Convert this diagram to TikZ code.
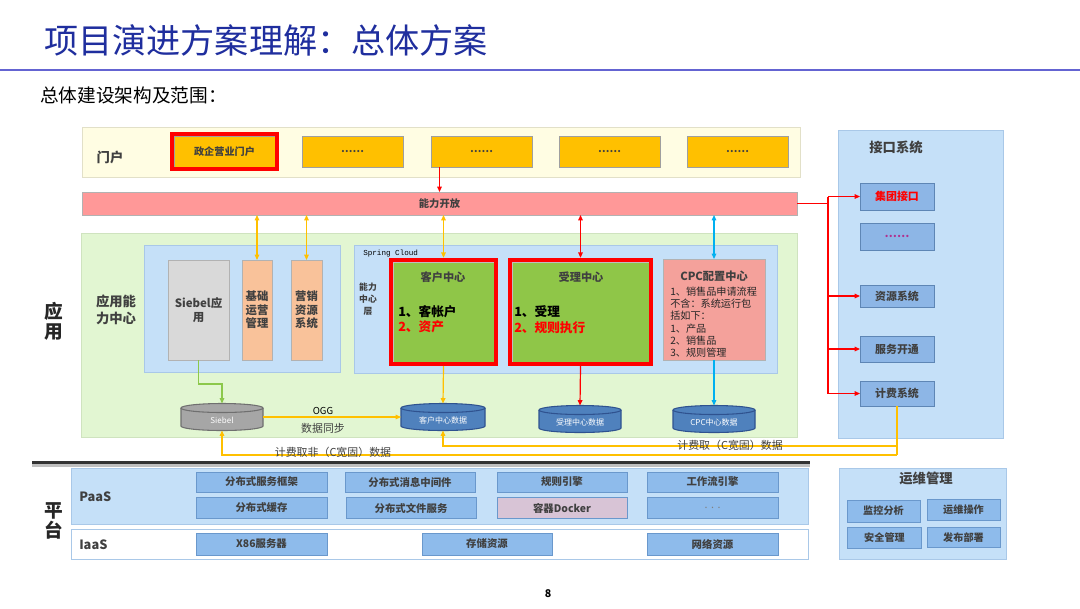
\documentclass[tikz,border=0pt]{standalone}
\usepackage{fontspec}
\setmainfont{Noto Sans CJK SC}
\setmonofont{Liberation Mono}
\usetikzlibrary{arrows.meta,shadows,fit}
\definecolor{ttl}{HTML}{1F2E9E}
\definecolor{tline}{HTML}{6464D2}
\definecolor{portbg}{HTML}{FFFDE3}
\definecolor{portbd}{HTML}{E2E0C8}
\definecolor{orgY}{HTML}{FFC000}
\definecolor{kfpink}{HTML}{FF9898}
\definecolor{appgrn}{HTML}{E2F6D2}
\definecolor{appbd}{HTML}{CFE3BF}
\definecolor{ltblue}{HTML}{C5E0F8}
\definecolor{ltbluebd}{HTML}{A9C8E8}
\definecolor{gbox}{HTML}{D9D9D9}
\definecolor{lorange}{HTML}{F9C29A}
\definecolor{grn}{HTML}{8FC648}
\definecolor{cpcpink}{HTML}{F4A19B}
\definecolor{dbblue}{HTML}{4F81BD}
\definecolor{dbedge}{HTML}{2F528F}
\definecolor{sgray}{HTML}{A6A6A6}
\definecolor{sedge}{HTML}{6F6F6F}
\definecolor{ibox}{HTML}{8DB6E6}
\definecolor{iboxbd}{HTML}{5E86B5}
\definecolor{pboxc}{HTML}{8EBBEB}
\definecolor{pboxbd}{HTML}{6A98CC}
\definecolor{dock}{HTML}{D8C4D6}
\definecolor{txt}{HTML}{404040}
\definecolor{yel}{HTML}{FFC000}
\definecolor{cyn}{HTML}{00B0F0}
\definecolor{gline}{HTML}{8CC84B}
\definecolor{dotc}{HTML}{B0308F}
\newcommand\dbcyl[7]{%
  \path[fill=#5] ({#2-#4},{#3-9}) -- ({#2-#4},{#3+9}) arc[start angle=180,end angle=0,x radius=#4,y radius=4.5] -- ({#2+#4},{#3-9}) -- cycle;
  \draw[#6, line width=0.8pt] ({#2-#4},{#3-9}) -- ({#2-#4},{#3+9}) arc[start angle=180,end angle=0,x radius=#4,y radius=4.5] -- ({#2+#4},{#3-9});
  \filldraw[fill=#5, draw=#6, line width=0.8pt] (#2,{#3-9}) ellipse[x radius=#4, y radius=4.5];
  \node[sz={2*#4}{27}] (#1) at (#2,#3) {};
  \node[text=white, font=\fontsize{6}{7}\selectfont, inner sep=0] at (#2,{#3+3}) {#7};
}
\begin{document}
\begin{tikzpicture}[x=0.75pt,y=-0.75pt,
  every node/.style={text=txt},
  sz/.style 2 args={minimum width=#1*0.75pt, minimum height=#2*0.75pt, inner sep=0pt, outer sep=0pt},
  fb/.style 2 args={font=\bfseries\fontsize{#1}{#2}\selectfont},
  fr/.style 2 args={font=\fontsize{#1}{#2}\selectfont},
  sh/.style={drop shadow={shadow xshift=0.9pt, shadow yshift=-0.9pt, opacity=0.3, fill=black}},
  pbox/.style={draw=gray!75, fill=orgY, sh, fb={7.6}{9}},
  redfr/.style={draw=red, line width=3.5pt, inner sep=1.4pt},
  ibx/.style={draw=iboxbd, fill=ibox, sh, fb={8.2}{10}},
  platbox/.style={draw=pboxbd, fill=pboxc, fb={7.8}{9}},
  opbox/.style={draw=pboxbd, fill=pboxc, fb={7.6}{9}},
  tipa/.tip={Triangle[length=4pt,width=3.4pt]},
  yarr/.style={draw=yel, line width=0.9pt, -tipa},
  yarr2/.style={draw=yel, line width=0.9pt, tipa-tipa},
  rarr/.style={draw=red, line width=0.9pt, -tipa},
  rarr2/.style={draw=red, line width=0.9pt, tipa-tipa},
  carr/.style={draw=cyn, line width=0.9pt, -tipa},
  carr2/.style={draw=cyn, line width=0.9pt, tipa-tipa},
  garr/.style={draw=gline, line width=0.9pt, -tipa},
  rline/.style={draw=red, line width=0.9pt},
  yline/.style={draw=yel, line width=0.9pt},
  bill/.style={fr={8.2}{10}, inner sep=0},
]
\useasboundingbox (0,0) rectangle (1080,608);
\fill[white] (0,0) rectangle (1080,608);

% title
\node[anchor=west, text=ttl, fr={25.6}{30}, inner sep=0] (title) at (44,40) {项目演进方案理解：总体方案};
\draw[tline, line width=1.4pt] (0,70) -- (1080,70);
\node[anchor=west, text=black, fr={14}{16}, inner sep=0] (sub) at (40,95) {总体建设架构及范围：};

% portal
\node[draw=portbd, fill=portbg, sz={718}{50}] (portal) at (441,152) {};
\node[fb={10}{12}] (menhu) at (110,157) {门户};
\node[pbox, sz={101}{31}] (p1) at (224.5,151.5) {政企营业门户};
\node[pbox, sz={101}{31}] (p2) at (352.5,151.5) {……};
\node[pbox, sz={101}{31}] (p3) at (481.5,151.5) {……};
\node[pbox, sz={101}{31}] (p4) at (609.5,151.5) {……};
\node[pbox, sz={101}{31}] (p5) at (737.5,151.5) {……};
\node[redfr, fit=(p1)] (p1f) {};

% capability open
\node[draw=gray!60, fill=kfpink, sz={715}{23}, fb={7.7}{9}] (kf) at (439.5,203.5) {能力开放};
\draw[rarr] (p3.south -| kf.north) -- (kf.north);

% application area
\node[draw=appbd, fill=appgrn, sz={716}{204}] (app) at (439,335) {};
\node[fb={10}{12.5}, align=center] (applbl) at (116,310) {应用能\\力中心};
\node[draw=ltbluebd, fill=ltblue, sz={196}{127}] (lpanel) at (242,308.5) {};
\node[draw=gray!60, fill=gbox, sz={61}{100}, sh, fb={8.6}{11}, align=center] (siebapp) at (198.5,310) {Siebel应\\用};
\node[draw=gray!60, fill=lorange, sz={30}{100}, sh, fb={8.5}{10}, align=center] (jichu) at (257,310) {基础\\运营\\管理};
\node[draw=gray!60, fill=lorange, sz={31}{100}, sh, fb={8.5}{10}, align=center] (yingxiao) at (306.5,310) {营销\\资源\\系统};

\node[draw=ltbluebd, fill=ltblue, sz={423}{128}] (rpanel) at (565.5,309) {};
\node[anchor=west, text=black, font=\ttfamily\fontsize{5.7}{7}\selectfont, inner sep=0] (spring) at (363,254) {Spring Cloud};
\node[fb={6.6}{9}, align=center, inner sep=0] (nlzx) at (368,299.5) {能力\\中心\\层};

\node[draw=gray!50, fill=grn, sz={101}{100}, sh] (kehu) at (443.5,312) {};
\node[redfr, fit=(kehu)] (kehuF) {};
\node[fb={8.4}{10}] (kehuT) at (443,277) {客户中心};
\node[anchor=west, text=black, fb={9.5}{11}, inner sep=0] (kehu1) at (398,312) {1、客帐户};
\node[anchor=west, text=red, fb={9.5}{11}, inner sep=0] (kehu2) at (398,327) {2、资产};

\node[draw=gray!50, fill=grn, sz={137}{100}, sh] (shouli) at (580.5,312) {};
\node[redfr, fit=(shouli)] (shouliF) {};
\node[fb={8.4}{10}] (shouliT) at (581,277) {受理中心};
\node[anchor=west, text=black, fb={9.5}{11}, inner sep=0] (shouli1) at (514,312) {1、受理};
\node[anchor=west, text=red, fb={9.5}{11}, inner sep=0] (shouli2) at (514,328) {2、规则执行};

\node[draw=gray!60, fill=cpcpink, sz={102}{101}, sh] (cpc) at (714,309.5) {};
\node[fb={8.4}{10}] (cpcT) at (714,276) {CPC配置中心};
\node[anchor=north west, fr={7.6}{9.2}, align=left, inner sep=0, text=black!85] (cpcB) at (670,286.5) {1、销售品申请流程\\不含：系统运行包\\括如下：\\1、产品\\2、销售品\\3、规则管理};

% databases
\dbcyl{sdb}{222}{417}{41}{sgray}{sedge}{Siebel}
\dbcyl{kdb}{443}{417}{42}{dbblue}{dbedge}{客户中心数据}
\dbcyl{sldb}{580}{419}{41}{dbblue}{dbedge}{受理中心数据}
\dbcyl{cdb}{714}{419}{41}{dbblue}{dbedge}{CPC中心数据}

% arrows capability <-> centers
\draw[yarr2] (kf.south -| jichu.north) -- (jichu.north);
\draw[yarr2] (kf.south -| yingxiao.north) -- (yingxiao.north);
\draw[yarr2] (kf.south -| kehuF.north) -- (kehuF.north);
\draw[rarr2] (kf.south -| shouliF.north) -- (shouliF.north);
\draw[carr2] (kf.south -| cpc.north) -- (cpc.north);

% arrows centers -> db
\coordinate (gturn) at (0,384);
\draw[garr] (siebapp.south) -- (siebapp.south |- gturn) -- (sdb.north |- gturn) -- (sdb.north);
\draw[yarr] (kehuF.south) -- (kdb.north);
\draw[rarr] (shouliF.south) -- (sldb.north);
\draw[carr] (cpc.south) -- (cdb.north);
\draw[yarr] (sdb.east) -- (kdb.west);
\node[fr={7.2}{8}, text=black, inner sep=0] (ogg) at (323,411) {OGG};
\node[fr={8.2}{9}, inner sep=0] (sync) at (323,428) {数据同步};

% interface system
\node[draw=ltbluebd, fill=ltblue, sz={165}{308}] (ifp) at (920.5,284) {};
\node[fb={10}{12}] (ifT) at (896,147) {接口系统};
\node[ibx, sz={74}{27}, text=red] (jt) at (897,196.5) {集团接口};
\node[ibx, sz={74}{27}, text=dotc] (idots) at (897,236.5) {……};
\node[ibx, sz={74}{22}] (zy) at (897,296) {资源系统};
\node[ibx, sz={74}{26}] (fw) at (897,349) {服务开通};
\node[ibx, sz={74}{25}] (jf) at (897,393.5) {计费系统};

\coordinate (rbus) at (828,204);
\draw[rline] (kf.east) -- (rbus |- kf.east);
\draw[rline] (rbus |- jt.west) -- (rbus |- jf.west);
\draw[rarr] (rbus |- jt.west) -- (jt.west);
\draw[rarr] (rbus |- zy.west) -- (zy.west);
\draw[rarr] (rbus |- fw.west) -- (fw.west);
\draw[rarr] (rbus |- jf.west) -- (jf.west);

% billing lines
\coordinate (yb1) at (0,446);
\coordinate (yb2) at (0,455);
\draw[yline] (jf.south) -- (jf.south |- yb2);
\draw[yarr] (jf.south |- yb1) -- (kdb.south |- yb1) -- (kdb.south);
\draw[yarr] (jf.south |- yb2) -- (sdb.south |- yb2) -- (sdb.south);
\node[bill] (b1) at (730,445) {计费取（C宽固）数据};
\node[bill] (b2) at (333,452) {计费取非（C宽固）数据};

% separator
\draw[black!25, line width=1.6pt] (32,465.5) -- (810,465.5);
\draw[black!80, line width=2.2pt] (32,462.5) -- (810,462.5);

% side labels
\node[fb={14}{15}, align=center, text=black!85] (lyy) at (54,321) {应\\用};
\node[fb={14}{15}, align=center, text=black!85] (lpt) at (54,521) {平\\台};

% platform
\node[draw=ltbluebd, fill=ltblue, sz={737}{56}] (paas) at (439.5,496) {};
\node[draw=ltbluebd, fill=white, sz={737}{30}] (iaas) at (439.5,544) {};
\node[anchor=west, fb={9.6}{11}, inner sep=0] (paasT) at (79,497) {PaaS};
\node[anchor=west, fb={9.6}{11}, inner sep=0] (iaasT) at (79,545) {IaaS};

\node[platbox, sz={131}{20}] (q1) at (261.5,482) {分布式服务框架};
\node[platbox, sz={130}{20}] (q2) at (410,482) {分布式消息中间件};
\node[platbox, sz={130}{20}] (q3) at (562,482) {规则引擎};
\node[platbox, sz={131}{20}] (q4) at (712.5,482) {工作流引擎};
\node[platbox, sz={131}{21}] (q5) at (261.5,508) {分布式缓存};
\node[platbox, sz={130}{21}] (q6) at (411,508) {分布式文件服务};
\node[platbox, sz={130}{21}, fill=dock] (q7) at (562,508) {容器Docker};
\node[platbox, sz={131}{21}, text=gray, font=\fontsize{8}{9}\selectfont] (q8) at (712.5,508) {.\,\,.\,\,.};
\node[platbox, sz={131}{22}] (i1) at (261.5,544) {X86服务器};
\node[platbox, sz={130}{22}] (i2) at (487,544) {存储资源};
\node[platbox, sz={131}{22}] (i3) at (712.5,544) {网络资源};

% ops
\node[draw=ltbluebd, fill=ltblue, sz={167}{91}] (ops) at (922.5,513.5) {};
\node[fb={10}{12}] (opsT) at (926,478) {运维管理};
\node[opbox, sz={73}{22}] (o1) at (883.5,511) {监控分析};
\node[opbox, sz={73}{21}] (o2) at (963.5,509.5) {运维操作};
\node[opbox, sz={74}{21}] (o3) at (884.5,538) {安全管理};
\node[opbox, sz={73}{20}] (o4) at (963.5,537.5) {发布部署};

\node[fb={8}{9}, text=black] (pg) at (548,594) {8};
\end{tikzpicture}
\end{document}
